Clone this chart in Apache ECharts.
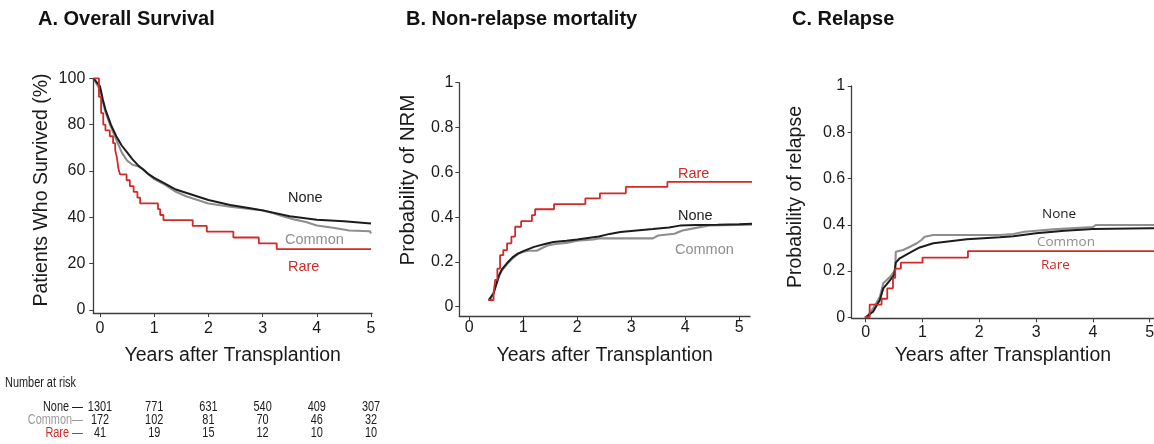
<!DOCTYPE html>
<html>
<head>
<meta charset="utf-8">
<script src="https://cdn.jsdelivr.net/npm/echarts@6.0.0/dist/echarts.min.js"></script>
<style>html,body{margin:0;padding:0;background:#fff;}#chart{width:1154px;height:444px;}</style>
</head>
<body>
<div id="chart"></div>
<script>
// ---------- text ----------
const panelTitles = ['A. Overall Survival', 'B. Non-relapse mortality', 'C. Relapse'];
const xAxisTitle = 'Years after Transplantion';
const yAxisTitles = ['Patients Who Survived (%)', 'Probability of NRM', 'Probability of relapse'];
const groups = ['None', 'Common', 'Rare'];
const riskTitle = 'Number at risk';
const riskRowLabels = ['None \u2014', 'Common\u2014', 'Rare \u2014'];

// ---------- ticks ----------
const xTicks = [0, 1, 2, 3, 4, 5];
const osTicks = [0, 20, 40, 60, 80, 100];
const probTicks = [0, 0.2, 0.4, 0.6, 0.8, 1];

// ---------- A. Overall survival (%) ----------
const osNone = [[-0.12,100],[0,96.5],[0.05,91],[0.1,86.5],[0.2,80],[0.3,75],[0.4,71],[0.5,68],[0.6,65],[0.7,62.5],[0.8,60.5],[0.9,58.5],[1.0,57],[1.2,54.5],[1.4,52],[1.6,50.5],[1.8,49],[2.0,47.5],[2.4,45.3],[2.8,43.8],[3.0,43],[3.5,40.5],[4.0,39],[4.5,38.3],[5.0,37.3]];
const osCommon = [[-0.12,100],[0,95],[0.05,90],[0.1,85.5],[0.2,79],[0.3,73.5],[0.4,68],[0.5,64.5],[0.6,62.7],[0.7,62],[0.8,60.8],[0.9,58.5],[1.0,56.5],[1.2,54],[1.4,51],[1.6,49],[1.8,47.5],[2.0,46],[2.4,44.6],[2.8,43.5],[3.0,43],[3.2,41.8],[3.4,40.3],[3.6,39],[3.8,38],[4.0,36.5],[4.3,35.5],[4.6,34.3],[4.98,34],[5.0,33]];
const osRare = [[-0.12,100],[-0.02,92],[0.02,85],[0.06,80],[0.1,77.5],[0.18,75],[0.24,72],[0.28,69],[0.31,66],[0.34,61],[0.37,58.5],[0.49,56],[0.55,53.5],[0.62,51],[0.69,48.5],[0.74,46],[1.07,43.5],[1.11,41],[1.17,38.8],[1.71,36.3],[1.97,33.8],[2.46,31.3],[2.93,28.8],[3.26,26.3],[5.0,26.3]];

// ---------- B. Non-relapse mortality ----------
const nrmNone = [[0.36,0.03],[0.45,0.06],[0.5,0.1],[0.55,0.14],[0.6,0.165],[0.7,0.195],[0.8,0.22],[0.9,0.237],[1.0,0.248],[1.2,0.267],[1.4,0.28],[1.56,0.289],[1.8,0.294],[2.0,0.3],[2.2,0.307],[2.4,0.313],[2.6,0.325],[2.8,0.333],[3.0,0.338],[3.4,0.347],[3.7,0.354],[3.9,0.362],[4.2,0.365],[4.6,0.366],[5.0,0.368],[5.37,0.372]];
const nrmCommon = [[0.38,0.03],[0.45,0.06],[0.5,0.1],[0.55,0.135],[0.6,0.16],[0.7,0.19],[0.8,0.215],[0.9,0.235],[1.0,0.245],[1.1,0.25],[1.25,0.25],[1.35,0.262],[1.45,0.273],[1.6,0.28],[1.8,0.285],[2.0,0.295],[2.3,0.3],[2.4,0.305],[3.4,0.305],[3.5,0.318],[3.8,0.326],[3.95,0.34],[4.2,0.352],[4.45,0.363],[5.37,0.367]];
const nrmRare = [[0.35,0.03],[0.45,0.06],[0.48,0.12],[0.52,0.17],[0.57,0.23],[0.63,0.253],[0.7,0.283],[0.78,0.313],[0.85,0.357],[0.96,0.382],[1.16,0.409],[1.22,0.435],[1.57,0.458],[2.15,0.484],[2.42,0.506],[2.9,0.535],[3.67,0.557],[5.37,0.557]];

// ---------- C. Relapse ----------
const relNone = [[0,0],[0.13,0.024],[0.25,0.075],[0.31,0.125],[0.43,0.161],[0.5,0.183],[0.53,0.236],[0.6,0.255],[0.78,0.279],[0.95,0.302],[1.19,0.32],[1.78,0.337],[2.36,0.346],[2.6,0.35],[3.0,0.363],[3.5,0.374],[4.0,0.382],[5.0,0.385],[5.075,0.385]];
const relCommon = [[0.02,0],[0.13,0.038],[0.25,0.089],[0.31,0.147],[0.43,0.175],[0.52,0.204],[0.53,0.283],[0.66,0.291],[0.78,0.305],[0.9,0.32],[0.98,0.334],[1.04,0.348],[1.19,0.356],[2.36,0.356],[2.6,0.36],[2.8,0.37],[3.0,0.374],[3.3,0.38],[4.0,0.39],[4.05,0.399],[5.075,0.399]];
const relRare = [[-0.02,0],[0.07,0.055],[0.28,0.08],[0.38,0.125],[0.48,0.17],[0.52,0.21],[0.62,0.236],[1.0,0.258],[1.8,0.286],[5.075,0.286]];

// ---------- number at risk ----------
const riskNone = [1301, 771, 631, 540, 409, 307];
const riskCommon = [172, 102, 81, 70, 46, 32];
const riskRare = [41, 19, 15, 12, 10, 10];

// ---------- styling ----------
const F = "'Liberation Sans', Arial, Helvetica, sans-serif";
const BLACK = '#1c1c1c', GRAY = '#8e8e8e', RED = '#cf2b2b', AXIS = '#3d3d3d', TXT = '#1a1a1a';
const groupColors = [BLACK, GRAY, RED];

const chart = echarts.init(document.getElementById('chart'), null, {renderer: 'canvas'});

function xAx(i, min, max, margin, nameGap) {
  return {
    type: 'value', gridIndex: i, min: min, max: max,
    name: xAxisTitle, nameLocation: 'middle', nameGap: nameGap,
    nameTextStyle: {fontFamily: F, fontSize: 19.5, color: TXT},
    axisLine: {onZero: false, lineStyle: {color: AXIS, width: 1.3}},
    axisTick: {show: true, customValues: xTicks, length: 4, lineStyle: {color: AXIS, width: 1}},
    axisLabel: {customValues: xTicks, fontFamily: F, fontSize: 16, color: TXT, margin: margin},
    splitLine: {show: false}
  };
}
function yAx(i, min, max, ticks, margin) {
  return {
    type: 'value', gridIndex: i, min: min, max: max,
    axisLine: {show: true, onZero: false, lineStyle: {color: AXIS, width: 1.3}},
    axisTick: {show: true, customValues: ticks, length: 4, lineStyle: {color: AXIS, width: 1}},
    axisLabel: {customValues: ticks, fontFamily: F, fontSize: 16, color: TXT, margin: margin, formatter: v => String(v)},
    splitLine: {show: false}
  };
}
function S(name, data, i, color, step, z, w) {
  return {
    type: 'line', name: name, data: data, xAxisIndex: i, yAxisIndex: i,
    step: step ? 'end' : false, showSymbol: false, symbol: 'none', clip: false, silent: true, z: z,
    lineStyle: {color: color, width: w}, itemStyle: {color: color}, emphasis: {disabled: true}
  };
}

chart.setOption({
  animation: false,
  backgroundColor: '#fff',
  grid: [
    {left: 93.3, top: 78.3, width: 278.8, height: 234.7, outerBoundsMode: 'none'},
    {left: 459.3, top: 82.7, width: 290.7, height: 233.3, outerBoundsMode: 'none'},
    {left: 851.7, top: 86, width: 302.3, height: 232.3, outerBoundsMode: 'none'}
  ],
  xAxis: [
    xAx(0, -0.124, 5.02, 8, 33),
    xAx(1, -0.185, 5.2, 3.5, 30),
    xAx(2, -0.246, 5.075, 6, 26)
  ],
  yAxis: [
    yAx(0, -1.29, 100, osTicks, 8),
    yAx(1, -0.0415, 1, probTicks, 6),
    yAx(2, -0.0045, 1, probTicks, 6.5)
  ],
  series: [
    S(groups[1], osCommon, 0, GRAY, false, 2, 2.1),
    S(groups[0], osNone, 0, BLACK, false, 3, 2),
    S(groups[2], osRare, 0, RED, true, 4, 1.8),
    S(groups[1], nrmCommon, 1, GRAY, false, 2, 2.1),
    S(groups[0], nrmNone, 1, BLACK, false, 3, 2),
    S(groups[2], nrmRare, 1, RED, true, 4, 1.8),
    S(groups[1], relCommon, 2, GRAY, false, 2, 2.1),
    S(groups[0], relNone, 2, BLACK, false, 3, 2),
    S(groups[2], relRare, 2, RED, true, 4, 1.8)
  ]
});

function txt(x, y, text, size, color, align, family, weight, rot, sx) {
  return {
    type: 'text', x: x, y: y, rotation: rot || 0, scaleX: sx || 1, silent: true,
    style: {
      text: text, fill: color,
      font: (weight || 'normal') + ' ' + size + 'px ' + family,
      textAlign: align || 'left', align: align || 'left',
      textVerticalAlign: 'middle', verticalAlign: 'middle'
    }
  };
}

const g = [];
// panel titles
g.push(txt(38, 19, panelTitles[0], 20, '#111', 'left', F, 'bold'));
g.push(txt(406, 19, panelTitles[1], 20, '#111', 'left', F, 'bold'));
g.push(txt(792, 19, panelTitles[2], 20, '#111', 'left', F, 'bold'));
// y-axis titles
g.push(txt(42, 190, yAxisTitles[0], 19.5, TXT, 'center', F, 'normal', Math.PI / 2));
g.push(txt(408, 180, yAxisTitles[1], 20.5, TXT, 'center', F, 'normal', Math.PI / 2));
g.push(txt(796, 197, yAxisTitles[2], 19.5, TXT, 'center', F, 'normal', Math.PI / 2));
// in-plot group labels
const labA = [[288, 198], [285, 240], [288, 267]];
const labB = [[678, 216], [675, 250], [678, 174]];
const labC = [[1042, 214], [1037, 242.5], [1041, 265]];
groups.forEach((name, k) => {
  g.push(txt(labA[k][0], labA[k][1], name, 14.5, groupColors[k], 'left', F));
  g.push(txt(labB[k][0], labB[k][1], name, 14.5, groupColors[k], 'left', F));
  g.push(txt(labC[k][0], labC[k][1], name, 13.5, groupColors[k], 'left', "'Open Sans', " + F));
});
// number at risk table (condensed lettering)
const NX = 0.78;
g.push(txt(5, 383, riskTitle, 14, TXT, 'left', F, 'normal', 0, NX));
const riskRows = [riskNone, riskCommon, riskRare];
const rowY = [406.7, 420, 433.3];
const rowColors = [BLACK, '#9a9a9a', RED];
riskRows.forEach((row, r) => {
  g.push(txt(83, rowY[r], riskRowLabels[r], 14, rowColors[r], 'right', F, 'normal', 0, NX));
  row.forEach((v, k) => {
    const px = chart.convertToPixel({xAxisIndex: 0}, xTicks[k]);
    g.push(txt(px, rowY[r], String(v), 14, TXT, 'center', F, 'normal', 0, NX));
  });
});
chart.setOption({graphic: g});
</script>
</body>
</html>
